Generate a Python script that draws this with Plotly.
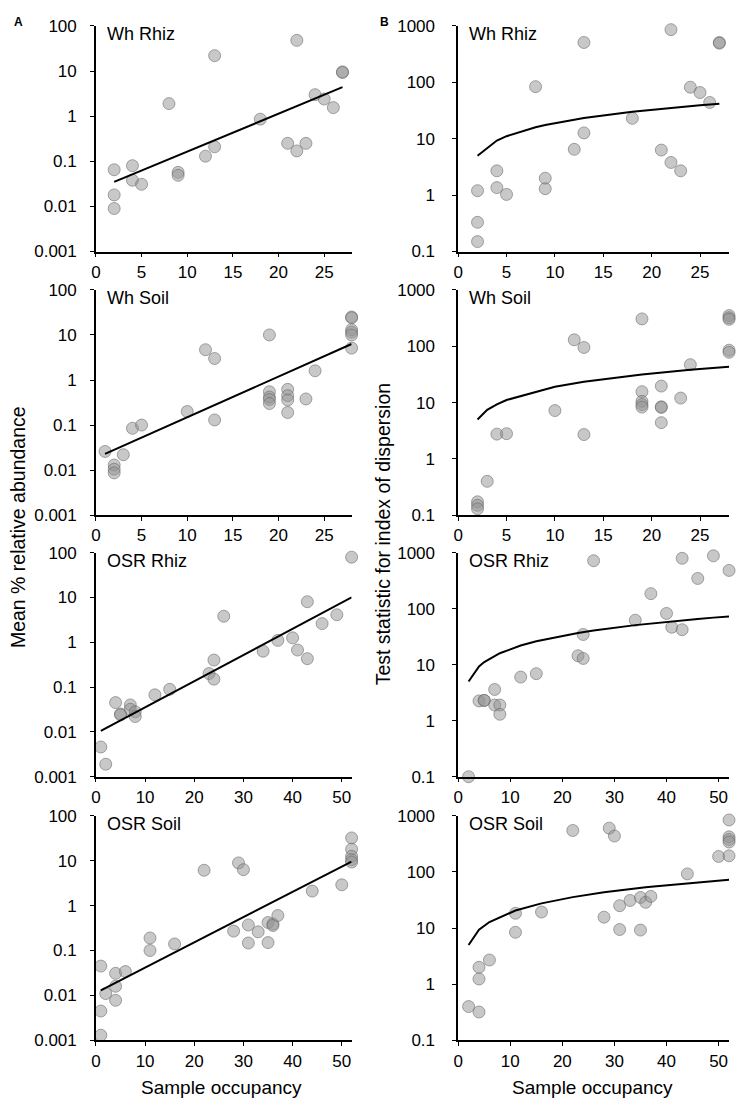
import plotly.graph_objects as go
from plotly.subplots import make_subplots

# panel names (same for both columns)
panels = ["Wh Rhiz", "Wh Soil", "OSR Rhiz", "OSR Soil"]

# ---- column A: mean % relative abundance vs sample occupancy ----
a1_x = [2, 2, 2, 4, 4, 5, 8, 9, 9, 12, 13, 13, 18, 21, 22, 22, 23, 24, 25, 26, 27, 27]
a1_y = [0.065, 0.018, 0.009, 0.08, 0.038, 0.031, 1.9, 0.057, 0.049, 0.13, 0.21, 22,
        0.86, 0.25, 0.17, 48, 0.25, 3.0, 2.4, 1.55, 9.6, 9.3]

a2_x = [1, 2, 2, 2, 3, 4, 5, 10, 12, 13, 13, 19, 19, 19, 19, 19, 21, 21, 21, 21,
        23, 24, 28, 28, 28, 28, 28, 28]
a2_y = [0.026, 0.013, 0.0105, 0.0087, 0.022, 0.085, 0.1, 0.2, 4.7, 3.0, 0.13,
        10, 0.55, 0.42, 0.37, 0.3, 0.62, 0.45, 0.36, 0.19, 0.38, 1.6,
        25, 24, 13, 11.5, 10, 5.1]

a3_x = [1, 2, 4, 5, 5, 7, 7, 8, 8, 12, 15, 23, 24, 24, 26, 34, 37, 40, 41, 43, 43,
        46, 49, 52]
a3_y = [0.0046, 0.0019, 0.045, 0.025, 0.024, 0.04, 0.032, 0.028, 0.022, 0.067,
        0.089, 0.2, 0.4, 0.15, 3.8, 0.63, 1.1, 1.25, 0.67, 8.0, 0.43, 2.6, 4.1, 79]

a4_x = [1, 1, 1, 2, 4, 4, 4, 6, 11, 11, 16, 22, 28, 29, 30, 31, 31, 33, 35, 35,
        36, 36, 37, 44, 50, 52, 52, 52, 52, 52]
a4_y = [0.045, 0.0045, 0.0013, 0.011, 0.031, 0.016, 0.0078, 0.034, 0.19, 0.1,
        0.14, 6.1, 0.27, 8.9, 6.3, 0.37, 0.147, 0.26, 0.42, 0.15, 0.39, 0.36, 0.6,
        2.1, 2.9, 32, 18, 12.5, 10.5, 9.3]

# fitted trend lines (end points)
fit_x = [[2, 27], [1, 28], [1, 52], [1, 52]]
fit_y = [[0.035, 4.4], [0.023, 6.3], [0.0105, 10], [0.013, 9.5]]

# ---- column B: test statistic for index of dispersion ----
b1_x = [2, 2, 2, 4, 4, 5, 8, 9, 9, 12, 13, 13, 18, 21, 22, 22, 23, 24, 25, 26, 27, 27]
b1_y = [1.2, 0.33, 0.15, 2.7, 1.36, 1.03, 84, 2.0, 1.3, 6.5, 12.7, 510, 23, 6.3,
        3.8, 860, 2.7, 82, 66, 44, 510, 495]

b2_x = [2, 2, 2, 3, 4, 5, 10, 12, 13, 13, 19, 19, 19, 19, 19, 21, 21, 21, 21,
        23, 24, 28, 28, 28, 28, 28]
b2_y = [0.173, 0.15, 0.13, 0.4, 2.75, 2.8, 7.2, 130, 95, 2.7, 305, 15.6, 10.5,
        9.2, 8.3, 19.6, 8.4, 8.2, 4.4, 12, 47, 350, 320, 300, 85, 78]

b3_x = [2, 4, 5, 5, 7, 7, 8, 8, 12, 15, 23, 24, 24, 26, 34, 37, 40, 41, 43, 43,
        46, 49, 52]
b3_y = [0.1, 2.25, 2.3, 2.3, 3.6, 1.9, 1.9, 1.3, 6.0, 6.9, 14.4, 12.9, 34.5, 715,
        62, 185, 82, 46.5, 42, 790, 345, 875, 480]

b4_x = [2, 4, 4, 4, 6, 11, 11, 16, 22, 28, 29, 30, 31, 31, 33, 35, 35, 36, 37, 44,
        50, 52, 52, 52, 52, 52]
b4_y = [0.4, 0.32, 2.0, 1.24, 2.7, 18.3, 8.4, 19.3, 545, 15.6, 600, 435, 9.4, 25,
        31, 35, 9.2, 28.7, 36.6, 92, 188, 840, 420, 375, 340, 193]

# critical value curves
crit_x = [
    [2, 4, 5, 8, 9, 12, 13, 18, 21, 22, 23, 24, 25, 26, 27],
    [2, 3, 4, 5, 10, 12, 13, 19, 21, 23, 24, 28],
    [2, 4, 5, 7, 8, 12, 15, 23, 24, 26, 34, 37, 40, 41, 43, 46, 49, 52],
    [2, 4, 6, 11, 16, 22, 28, 29, 30, 31, 33, 35, 36, 37, 44, 50, 52],
]
crit_y = [
    [5.0, 9.3, 11.1, 16.0, 17.5, 21.9, 23.3, 30.2, 34.2, 35.5, 36.8, 38.1, 39.4, 40.6, 41.9],
    [5.0, 7.4, 9.3, 11.1, 19.0, 21.9, 23.3, 31.5, 34.2, 36.8, 38.1, 43.2],
    [5.0, 9.3, 11.1, 14.4, 16.0, 21.9, 26.1, 36.8, 38.1, 40.6, 50.7, 54.4, 58.1, 59.3,
     61.8, 65.4, 69.0, 72.6],
    [5.0, 9.3, 12.8, 20.5, 27.5, 35.5, 43.2, 44.5, 45.7, 47.0, 49.5, 52.0, 53.2, 54.4,
     62.9, 70.2, 72.6],
]

# tick labels
a_ticks = [0.001, 0.01, 0.1, 1, 10, 100]
a_ticktext = ["0.001", "0.01", "0.1", "1", "10", "100"]
b_ticks = [0.1, 1, 10, 100, 1000]
b_ticktext = ["0.1", "1", "10", "100", "1000"]
x_max = [28, 28, 52, 52]
x_step = [5, 5, 10, 10]

ax = [a1_x, a2_x, a3_x, a4_x]
ay = [a1_y, a2_y, a3_y, a4_y]
bx = [b1_x, b2_x, b3_x, b4_x]
by = [b1_y, b2_y, b3_y, b4_y]

FONT = "Liberation Sans, Arial, sans-serif"
dot = dict(size=12, color="rgba(145,145,145,0.5)",
           line=dict(color="rgba(100,100,100,0.55)", width=1))

fig = make_subplots(rows=4, cols=2)

for i in range(4):
    r = i + 1
    fig.add_trace(go.Scatter(x=ax[i], y=ay[i], mode="markers", marker=dot,
                             cliponaxis=False, showlegend=False), row=r, col=1)
    fig.add_trace(go.Scatter(x=fit_x[i], y=fit_y[i], mode="lines",
                             line=dict(color="black", width=2), showlegend=False),
                  row=r, col=1)
    fig.add_trace(go.Scatter(x=bx[i], y=by[i], mode="markers", marker=dot,
                             cliponaxis=False, showlegend=False), row=r, col=2)
    fig.add_trace(go.Scatter(x=crit_x[i], y=crit_y[i], mode="lines",
                             line=dict(color="black", width=2), showlegend=False),
                  row=r, col=2)

xdom = [[0.1242, 0.4735], [0.6191, 0.9891]]
ydom = [[0.7785, 0.9845], [0.5377, 0.7435], [0.2989, 0.5036], [0.0581, 0.2633]]
y_standoff = [10, 14]

common_x = dict(showline=True, linecolor="black", linewidth=1.5, ticks="outside",
                ticklen=4, tickcolor="black", showgrid=False, zeroline=False,
                tickfont=dict(family=FONT, size=17, color="black"))
common_y = dict(common_x, type="log")

for i in range(4):
    for c in range(2):
        n = i * 2 + c + 1
        xa = "xaxis" if n == 1 else f"xaxis{n}"
        ya = "yaxis" if n == 1 else f"yaxis{n}"
        fig.layout[xa].update(common_x, domain=xdom[c], range=[0, x_max[i]],
                              dtick=x_step[i], tick0=0)
        if c == 0:
            fig.layout[ya].update(common_y, domain=ydom[i], range=[-3, 2],
                                  tickvals=a_ticks, ticktext=a_ticktext,
                                  ticklabelstandoff=y_standoff[c])
        else:
            fig.layout[ya].update(common_y, domain=ydom[i], range=[-1, 3],
                                  tickvals=b_ticks, ticktext=b_ticktext,
                                  ticklabelstandoff=y_standoff[c])
        fig.add_annotation(text=panels[i], xref="paper", yref="paper",
                           x=xdom[c][0] + 0.012, y=ydom[i][1] - 0.0075,
                           xanchor="left", yanchor="middle", showarrow=False,
                           font=dict(family=FONT, size=18, color="black"))

labels = [
    dict(text="<b>A</b>", x=0.018, y=0.988, size=12),
    dict(text="<b>B</b>", x=0.518, y=0.988, size=12),
    dict(text="Sample occupancy", x=0.296, y=0.015, size=19),
    dict(text="Sample occupancy", x=0.802, y=0.015, size=19),
]
for lb in labels:
    fig.add_annotation(text=lb["text"], xref="paper", yref="paper", x=lb["x"],
                       y=lb["y"], xanchor="center", yanchor="middle", showarrow=False,
                       font=dict(family=FONT, size=lb["size"], color="black"))

fig.add_annotation(text="Mean % relative abundance", xref="paper", yref="paper",
                   x=0.018, y=0.527, textangle=-90, showarrow=False,
                   xanchor="center", yanchor="middle",
                   font=dict(family=FONT, size=19.5, color="black"))
fig.add_annotation(text="Test statistic for index of dispersion", xref="paper",
                   yref="paper", x=0.516, y=0.52, textangle=-90, showarrow=False,
                   xanchor="center", yanchor="middle",
                   font=dict(family=FONT, size=19.5, color="black"))

fig.update_layout(width=737, height=1114, margin=dict(l=0, r=0, t=0, b=0),
                  plot_bgcolor="white", paper_bgcolor="white",
                  font=dict(family=FONT, color="black"))

page_css = ("document.body.style.margin='0';"
            "document.body.style.overflow='hidden';"
            "document.documentElement.style.overflow='hidden';")
fig.write_html("out.html", config={"displayModeBar": False}, post_script=page_css)
